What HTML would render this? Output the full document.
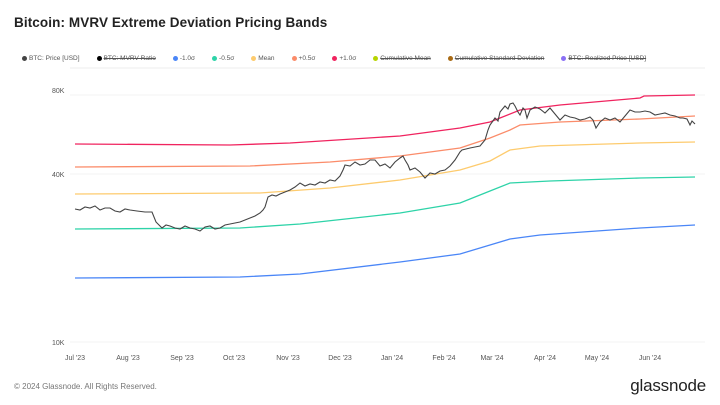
<!DOCTYPE html>
<html><head><meta charset="utf-8"><style>
body{margin:0;width:720px;height:405px;background:#fff;font-family:"Liberation Sans",sans-serif;overflow:hidden;position:relative}
.t{position:absolute;left:14px;top:15px;font-size:13.5px;color:#222;font-weight:bold;letter-spacing:0.1px}
.lg{position:absolute;top:55px;left:22px;font-size:6.5px;color:#555;white-space:nowrap}
.lg span{margin-right:17px}
.lg i{display:inline-block;width:5px;height:5px;border-radius:50%;margin-right:2px;vertical-align:-0.5px}
.s{text-decoration:line-through}
.ft{position:absolute;left:14px;top:382px;font-size:8px;color:#777}
.logo{position:absolute;right:14px;top:376px;font-size:17px;color:#222;letter-spacing:-0.2px}
</style></head><body>
<div class="t">Bitcoin: MVRV Extreme Deviation Pricing Bands</div>
<div class="lg"><span><i style="background:#444"></i>BTC: Price [USD]</span><span class="s"><i style="background:#000"></i>BTC: MVRV Ratio</span><span><i style="background:#4a86f7"></i>-1.0σ</span><span><i style="background:#2ed3a8"></i>-0.5σ</span><span><i style="background:#fdcb6e"></i>Mean</span><span><i style="background:#fb8c6a"></i>+0.5σ</span><span><i style="background:#f0245f"></i>+1.0σ</span><span class="s"><i style="background:#b7d400"></i>Cumulative Mean</span><span class="s"><i style="background:#a86a14"></i>Cumulative Standard Deviation</span><span class="s"><i style="background:#8a70f5"></i>BTC: Realized Price [USD]</span></div>
<svg width="720" height="405" style="position:absolute;left:0;top:0" font-family="Liberation Sans" font-size="7" fill="#555">
<line x1="70" y1="68" x2="705" y2="68" stroke="#eee"/>
<line x1="70" y1="95" x2="705" y2="95" stroke="#f3f3f3"/>
<line x1="70" y1="174" x2="705" y2="174" stroke="#f3f3f3"/>
<line x1="70" y1="342" x2="705" y2="342" stroke="#f3f3f3"/>
<text x="52" y="93">80K</text><text x="52" y="177">40K</text><text x="52" y="345">10K</text>
<g text-anchor="middle"><text x="75" y="360">Jul '23</text><text x="128" y="360">Aug '23</text><text x="182" y="360">Sep '23</text><text x="234" y="360">Oct '23</text><text x="288" y="360">Nov '23</text><text x="340" y="360">Dec '23</text><text x="392" y="360">Jan '24</text><text x="444" y="360">Feb '24</text><text x="492" y="360">Mar '24</text><text x="545" y="360">Apr '24</text><text x="597" y="360">May '24</text><text x="650" y="360">Jun '24</text></g>
<g fill="none" stroke-width="1.3">
<polyline stroke="#f0245f" points="75,144 230,145 290,143 400,136 460,128 490,122 500,118 520,110 560,105 640,98 644,96 695,95"/>
<polyline stroke="#fb8c6a" points="75,167 250,166 330,162 400,156 460,148 490,138 510,130 520,125 560,122 640,119 695,116"/>
<polyline stroke="#fdcb6e" points="75,194 260,193 330,188 400,180 460,170 490,161 510,150 540,146 640,143 695,142"/>
<polyline stroke="#2ed3a8" points="75,229 240,228 300,224 400,213 460,203 490,191 510,183 550,181 640,178 695,177"/>
<polyline stroke="#4a86f7" points="75,278 240,277 300,274 400,262 460,254 490,245 510,239 540,235 640,228 695,225"/>
<polyline stroke="#444" stroke-width="1.1" points="75,209 80,210 85,207 90,208 95,206 100,210 105,208 110,208 115,211 120,212 125,209 130,210 137,211 145,212 152,212 156,222 162,228 166,225 170,226 175,228 180,229 185,226 190,228 195,229 200,231 205,227 210,226 215,229 220,228 225,225 230,224 235,223 240,222 245,220 250,218 255,216 260,213 263,210 265,207 268,197 272,195 276,196 280,194 285,192 290,190 295,187 300,183 305,186 310,184 315,185 320,182 325,183 330,180 335,181 340,176 343,170 345,165 350,166 355,162 360,165 365,164 370,160 375,160 380,166 385,164 390,168 395,162 400,158 403,156 405,160 408,165 410,170 415,168 420,172 425,178 430,173 435,174 440,171 445,170 450,166 455,160 460,152 462,150 466,149 470,148 475,147 480,146 485,140 488,130 490,125 495,118 498,121 500,112 505,106 508,109 510,104 513,103 515,106 518,112 520,115 523,108 525,110 527,118 530,110 535,107 540,109 545,113 550,108 555,114 560,120 565,115 570,117 575,118 580,120 585,119 590,117 593,120 596,128 600,122 605,118 610,120 615,118 620,122 625,116 630,110 635,112 640,112 645,111 650,112 655,115 660,114 665,113 670,115 675,116 680,118 683,118 687,119 690,125 692,121 695,124"/>
</g>
</svg>
<div class="ft">© 2024 Glassnode. All Rights Reserved.</div>
<div class="logo">glassnode</div>
</body></html>
